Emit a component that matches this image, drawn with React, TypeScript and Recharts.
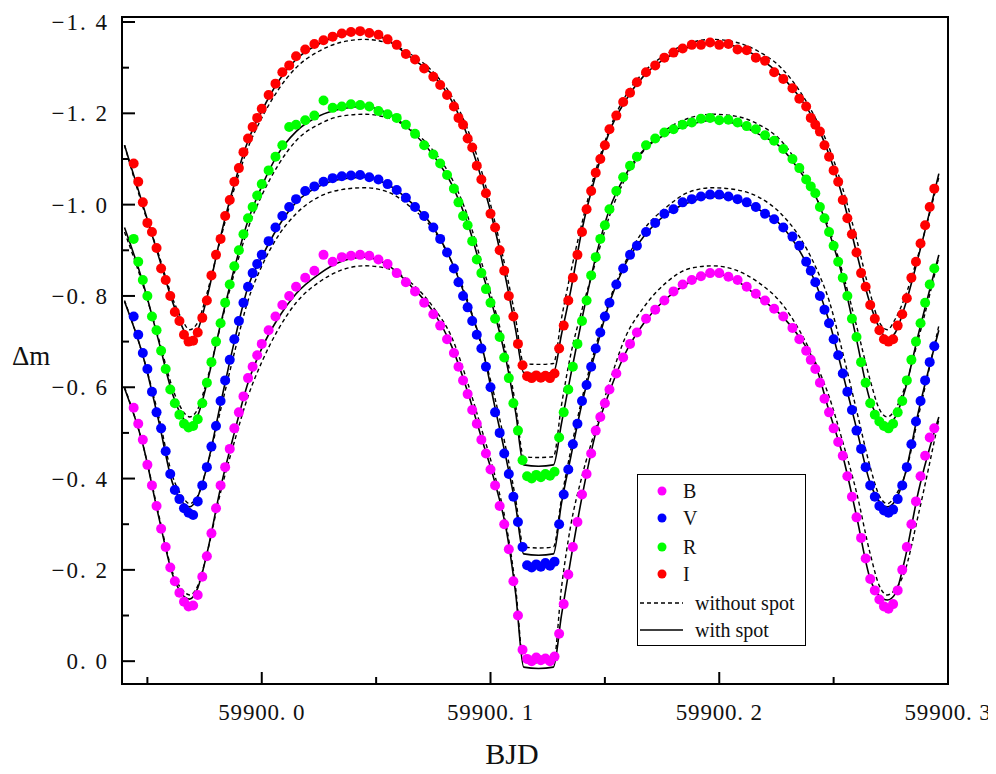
import React from "react";
import { ComposedChart, Line, Scatter, XAxis, YAxis, ReferenceArea } from "recharts";

// model curve times (BJD)
const modelTime = [
  59899.94, 59899.948, 59899.955, 59899.961, 59899.965, 59899.9685, 59899.972, 59899.976, 59899.982, 59899.988,
  59899.994, 59900.0, 59900.007, 59900.015, 59900.025, 59900.035, 59900.045, 59900.055, 59900.065, 59900.075,
  59900.083, 59900.09, 59900.096, 59900.102, 59900.107, 59900.111, 59900.1145, 59900.121, 59900.1275, 59900.131,
  59900.135, 59900.14, 59900.146, 59900.152, 59900.159, 59900.167, 59900.177, 59900.187, 59900.197, 59900.207,
  59900.217, 59900.227, 59900.235, 59900.242, 59900.248, 59900.254, 59900.26, 59900.266, 59900.27, 59900.2735,
  59900.277, 59900.281, 59900.287, 59900.296,
];

const iWithSpot = [
  -1.13, -1.0, -0.885, -0.787, -0.735, -0.705, -0.725, -0.795, -0.93, -1.045,
  -1.14, -1.205, -1.268, -1.318, -1.352, -1.372, -1.378, -1.36, -1.323, -1.283,
  -1.228, -1.15, -1.058, -0.945, -0.83, -0.725, -0.632, -0.629, -0.632, -0.715,
  -0.81, -0.945, -1.065, -1.16, -1.228, -1.282, -1.322, -1.346, -1.354, -1.347,
  -1.323, -1.282, -1.236, -1.18, -1.11, -1.015, -0.895, -0.782, -0.73, -0.706,
  -0.72, -0.775, -0.885, -1.068,
];
const iNoSpot = [
  -1.13, -0.995, -0.89, -0.795, -0.75, -0.726, -0.742, -0.805, -0.925, -1.035,
  -1.125, -1.19, -1.25, -1.3, -1.336, -1.356, -1.362, -1.354, -1.33, -1.29,
  -1.238, -1.165, -1.075, -0.96, -0.85, -0.75, -0.652, -0.65, -0.652, -0.75,
  -0.85, -0.96, -1.075, -1.165, -1.238, -1.29, -1.33, -1.354, -1.362, -1.356,
  -1.336, -1.3, -1.25, -1.19, -1.125, -1.035, -0.925, -0.805, -0.742, -0.726,
  -0.75, -0.795, -0.89, -1.06,
];
const rWithSpot = [
  -0.95, -0.83, -0.7, -0.585, -0.537, -0.519, -0.538, -0.608, -0.738, -0.86,
  -0.965, -1.04, -1.11, -1.16, -1.194, -1.21, -1.215, -1.2, -1.163, -1.108,
  -1.045, -0.96, -0.858, -0.758, -0.655, -0.545, -0.43, -0.427, -0.43, -0.52,
  -0.625, -0.75, -0.885, -0.99, -1.065, -1.12, -1.155, -1.175, -1.185, -1.178,
  -1.155, -1.125, -1.075, -1.02, -0.94, -0.84, -0.705, -0.57, -0.532, -0.52,
  -0.535, -0.59, -0.715, -0.89,
];
const rNoSpot = [
  -0.94, -0.825, -0.705, -0.598, -0.552, -0.535, -0.552, -0.615, -0.735, -0.85,
  -0.948, -1.02, -1.085, -1.14, -1.176, -1.194, -1.198, -1.19, -1.165, -1.118,
  -1.058, -0.975, -0.875, -0.77, -0.67, -0.56, -0.448, -0.446, -0.448, -0.56,
  -0.67, -0.77, -0.875, -0.975, -1.058, -1.118, -1.165, -1.19, -1.198, -1.194,
  -1.176, -1.14, -1.085, -1.02, -0.948, -0.85, -0.735, -0.615, -0.552, -0.535,
  -0.552, -0.598, -0.705, -0.885,
];
const vWithSpot = [
  -0.788, -0.67, -0.525, -0.39, -0.35, -0.338, -0.36, -0.425, -0.564, -0.7,
  -0.82, -0.885, -0.95, -1.005, -1.04, -1.056, -1.06, -1.044, -1.006, -0.95,
  -0.875, -0.785, -0.695, -0.555, -0.44, -0.34, -0.235, -0.232, -0.235, -0.345,
  -0.445, -0.565, -0.68, -0.785, -0.87, -0.93, -0.98, -1.005, -1.018, -1.012,
  -0.99, -0.955, -0.9, -0.83, -0.745, -0.63, -0.51, -0.39, -0.35, -0.338,
  -0.352, -0.405, -0.545, -0.725,
];
const vNoSpot = [
  -0.79, -0.67, -0.535, -0.405, -0.363, -0.345, -0.362, -0.425, -0.55, -0.675,
  -0.79, -0.865, -0.93, -0.98, -1.017, -1.033, -1.037, -1.028, -0.995, -0.945,
  -0.875, -0.79, -0.69, -0.575, -0.46, -0.355, -0.25, -0.248, -0.25, -0.355,
  -0.46, -0.575, -0.69, -0.79, -0.875, -0.945, -0.995, -1.028, -1.037, -1.033,
  -1.017, -0.98, -0.93, -0.865, -0.79, -0.675, -0.55, -0.425, -0.362, -0.345,
  -0.363, -0.405, -0.535, -0.735,
];
const bWithSpot = [
  -0.598, -0.475, -0.315, -0.19, -0.148, -0.136, -0.16, -0.235, -0.38, -0.5,
  -0.61, -0.685, -0.75, -0.805, -0.848, -0.876, -0.885, -0.868, -0.823, -0.765,
  -0.69, -0.59, -0.49, -0.39, -0.285, -0.148, 0.013, 0.016, 0.013, -0.1,
  -0.22, -0.36, -0.5, -0.59, -0.675, -0.74, -0.795, -0.83, -0.849, -0.835,
  -0.798, -0.758, -0.71, -0.65, -0.548, -0.45, -0.318, -0.18, -0.143, -0.134,
  -0.148, -0.22, -0.37, -0.535,
];
const bNoSpot = [
  -0.6, -0.475, -0.32, -0.195, -0.158, -0.145, -0.165, -0.235, -0.37, -0.48,
  -0.58, -0.655, -0.725, -0.785, -0.83, -0.857, -0.866, -0.86, -0.83, -0.775,
  -0.71, -0.61, -0.51, -0.405, -0.295, -0.16, 0.003, 0.004, 0.003, -0.16,
  -0.295, -0.405, -0.51, -0.61, -0.71, -0.775, -0.83, -0.86, -0.866, -0.857,
  -0.83, -0.785, -0.725, -0.655, -0.58, -0.48, -0.37, -0.235, -0.165, -0.145,
  -0.158, -0.195, -0.32, -0.53,
];

// observation times (BJD)
const obsTime = [
  59899.944, 59899.946, 59899.948, 59899.95, 59899.952, 59899.954, 59899.956, 59899.958, 59899.96, 59899.962, 59899.964,
  59899.966, 59899.968, 59899.97,
  59899.972, 59899.974, 59899.976, 59899.978, 59899.98, 59899.982, 59899.984, 59899.986, 59899.988, 59899.99,
  59899.992, 59899.994, 59899.996, 59899.998, 59900.0,
  59900.003, 59900.006, 59900.009, 59900.012, 59900.015, 59900.019, 59900.023, 59900.027, 59900.031, 59900.035,
  59900.039, 59900.043, 59900.047, 59900.051, 59900.055, 59900.059, 59900.063, 59900.067, 59900.071, 59900.075, 59900.078,
  59900.081, 59900.084, 59900.086, 59900.088, 59900.09, 59900.092, 59900.094, 59900.096, 59900.098, 59900.1,
  59900.102, 59900.104, 59900.106, 59900.108, 59900.11, 59900.112, 59900.114,
  59900.116, 59900.118, 59900.12, 59900.122, 59900.124, 59900.126, 59900.128,
  59900.13, 59900.132, 59900.134, 59900.136, 59900.138, 59900.14, 59900.142, 59900.144, 59900.146, 59900.148,
  59900.15, 59900.152, 59900.155, 59900.158, 59900.161,
  59900.164, 59900.168, 59900.172, 59900.176, 59900.18, 59900.184, 59900.188, 59900.192, 59900.196, 59900.2,
  59900.204, 59900.208, 59900.212, 59900.216, 59900.22, 59900.224, 59900.228, 59900.232, 59900.235, 59900.238,
  59900.24, 59900.242, 59900.244, 59900.246, 59900.248, 59900.25, 59900.252, 59900.254, 59900.256, 59900.258,
  59900.26, 59900.262, 59900.264, 59900.266, 59900.268, 59900.27,
  59900.272, 59900.274, 59900.276,
  59900.278, 59900.28, 59900.282, 59900.284, 59900.286, 59900.288, 59900.29, 59900.292, 59900.294,
];

const iObs = [
  -1.09, -1.05, -1.005, -0.96, -0.94, -0.905, -0.86, -0.835, -0.8, -0.765, -0.745,
  -0.715, -0.7, -0.702,
  -0.72, -0.752, -0.79, -0.845, -0.89, -0.925, -0.975, -1.01, -1.05, -1.08, -1.115, -1.145, -1.17, -1.19, -1.21,
  -1.24, -1.265, -1.29, -1.305, -1.325, -1.34, -1.352, -1.36, -1.368, -1.375, -1.378, -1.38, -1.376, -1.372, -1.362,
  -1.35, -1.33, -1.318, -1.298, -1.28, -1.262,
  -1.24, -1.215, -1.19, -1.175, -1.145, -1.125, -1.085, -1.055, -1.025, -0.98, -0.95, -0.9, -0.855, -0.8, -0.755,
  -0.695, -0.648,
  -0.624, -0.62, -0.626, -0.621, -0.625, -0.62, -0.63,
  -0.685, -0.735, -0.79, -0.84, -0.89, -0.94, -0.99, -1.03, -1.07, -1.1, -1.13, -1.165, -1.195, -1.225, -1.245,
  -1.268, -1.29, -1.305, -1.322, -1.333, -1.342, -1.35, -1.35, -1.355, -1.35, -1.352, -1.34, -1.338, -1.322, -1.315,
  -1.29, -1.275, -1.255, -1.232, -1.215,
  -1.19, -1.175, -1.16, -1.13, -1.105, -1.075, -1.05, -1.01, -0.97, -0.935, -0.895, -0.85, -0.82, -0.78, -0.75, -0.725,
  -0.705, -0.7, -0.705,
  -0.735, -0.76, -0.795, -0.84, -0.875, -0.915, -0.955, -0.995, -1.035,
];
const rObs = [
  -0.925, -0.875, -0.835, -0.8, -0.755, -0.725, -0.68, -0.64, -0.595, -0.565, -0.54,
  -0.52, -0.512, -0.515,
  -0.53, -0.565, -0.61, -0.655, -0.7, -0.74, -0.785, -0.825, -0.865, -0.9, -0.935, -0.97, -0.995, -1.02, -1.045,
  -1.075, -1.105, -1.13, -1.17, -1.175, -1.185, -1.195, -1.228, -1.212, -1.215, -1.22, -1.218, -1.215, -1.205, -1.198,
  -1.19, -1.175, -1.155, -1.13, -1.11, -1.09,
  -1.065, -1.035, -1.005, -0.975, -0.955, -0.92, -0.88, -0.85, -0.815, -0.785, -0.75, -0.71, -0.665, -0.62, -0.565,
  -0.505, -0.44,
  -0.405, -0.4, -0.408, -0.403, -0.41, -0.406, -0.415,
  -0.49, -0.545, -0.595, -0.645, -0.695, -0.745, -0.79, -0.845, -0.885, -0.925, -0.955, -0.99, -1.03, -1.06, -1.085,
  -1.105, -1.13, -1.145, -1.158, -1.165, -1.175, -1.18, -1.188, -1.19, -1.185, -1.186, -1.18, -1.172, -1.165, -1.152,
  -1.14, -1.122, -1.1, -1.08, -1.055,
  -1.04, -1.025, -0.995, -0.97, -0.94, -0.91, -0.875, -0.84, -0.8, -0.75, -0.71, -0.655, -0.61, -0.565, -0.54, -0.525,
  -0.515, -0.51, -0.52,
  -0.545, -0.57, -0.615, -0.66, -0.7, -0.74, -0.785, -0.825, -0.86,
];
const vObs = [
  -0.755, -0.715, -0.675, -0.64, -0.59, -0.545, -0.51, -0.46, -0.41, -0.375, -0.355,
  -0.335, -0.325, -0.32,
  -0.35, -0.385, -0.425, -0.47, -0.515, -0.57, -0.615, -0.66, -0.705, -0.745, -0.785, -0.82, -0.85, -0.87, -0.89,
  -0.92, -0.95, -0.975, -0.995, -1.012, -1.03, -1.04, -1.05, -1.058, -1.062, -1.064, -1.065, -1.06, -1.055, -1.045,
  -1.032, -1.015, -0.995, -0.975, -0.95, -0.925,
  -0.895, -0.86, -0.83, -0.8, -0.775, -0.745, -0.715, -0.685, -0.645, -0.6, -0.545, -0.5, -0.455, -0.41, -0.36,
  -0.305, -0.25,
  -0.21, -0.205, -0.212, -0.207, -0.215, -0.209, -0.218,
  -0.3, -0.365, -0.42, -0.475, -0.52, -0.57, -0.605, -0.645, -0.685, -0.72, -0.755, -0.785, -0.825, -0.86, -0.89,
  -0.91, -0.94, -0.96, -0.98, -0.99, -1.005, -1.012, -1.018, -1.022, -1.022, -1.018, -1.012, -1.005, -0.995, -0.98,
  -0.968, -0.95, -0.93, -0.91, -0.875,
  -0.855, -0.83, -0.8, -0.77, -0.74, -0.705, -0.67, -0.63, -0.59, -0.55, -0.505, -0.465, -0.425, -0.385, -0.36, -0.34,
  -0.33, -0.325, -0.332,
  -0.355, -0.385, -0.425, -0.475, -0.525, -0.57, -0.615, -0.655, -0.69,
];
const bObs = [
  -0.555, -0.52, -0.485, -0.43, -0.385, -0.34, -0.29, -0.25, -0.205, -0.175, -0.15,
  -0.13, -0.12, -0.122,
  -0.145, -0.185, -0.23, -0.28, -0.335, -0.385, -0.425, -0.465, -0.51, -0.545, -0.58, -0.62, -0.645, -0.67, -0.695,
  -0.725, -0.755, -0.78, -0.8, -0.82, -0.84, -0.855, -0.89, -0.875, -0.885, -0.888, -0.89, -0.888, -0.88, -0.87,
  -0.85, -0.83, -0.81, -0.785, -0.76, -0.735,
  -0.705, -0.675, -0.645, -0.615, -0.585, -0.55, -0.52, -0.485, -0.455, -0.42, -0.385, -0.34, -0.3, -0.245, -0.175,
  -0.1, -0.025,
  -0.005, 0.0, -0.008, -0.002, -0.006, 0.0, -0.01,
  -0.06, -0.125, -0.19, -0.25, -0.305, -0.365, -0.41, -0.455, -0.505, -0.535, -0.565, -0.595, -0.63, -0.665, -0.695,
  -0.72, -0.75, -0.77, -0.79, -0.81, -0.825, -0.835, -0.843, -0.85, -0.85, -0.842, -0.835, -0.82, -0.805, -0.79,
  -0.772, -0.755, -0.73, -0.705, -0.68,
  -0.66, -0.64, -0.61, -0.575, -0.545, -0.51, -0.48, -0.45, -0.405, -0.36, -0.315, -0.27, -0.225, -0.18, -0.155, -0.135,
  -0.12, -0.115, -0.125,
  -0.155, -0.2, -0.25, -0.3, -0.35, -0.405, -0.45, -0.49, -0.51,
];

const xTicks = [59899.95, 59900.0, 59900.05, 59900.1, 59900.15, 59900.2, 59900.25, 59900.3];
const yTicks = [-1.4, -1.3, -1.2, -1.1, -1.0, -0.9, -0.8, -0.7, -0.6, -0.5, -0.4, -0.3, -0.2, -0.1, 0.0];

const X_MIN = 59899.9389;
const X_MAX = 59900.3;
const Y_MIN = -1.411;
const Y_MAX = 0.05;

const FONT = "'Liberation Serif', 'DejaVu Serif', serif";
const COLORS = { B: "#ff00ff", V: "#0000ff", R: "#00ff00", I: "#ff0000" };

const modelRows = modelTime.map((x, i) => ({
  x,
  iS: iWithSpot[i], iN: iNoSpot[i],
  rS: rWithSpot[i], rN: rNoSpot[i],
  vS: vWithSpot[i], vN: vNoSpot[i],
  bS: bWithSpot[i], bN: bNoSpot[i],
}));

const toPoints = (ys: number[]) => obsTime.map((x, i) => ({ x, y: ys[i] }));

function fmt(v: number) {
  const s = Math.abs(v) < 1e-9 ? "0.0" : v.toFixed(1);
  return s.replace("-", "\u2212").replace(".", ". ");
}

function XTick(props: any) {
  const { x, y, payload } = props;
  const v = payload.value;
  const major = Math.abs(v * 10 - Math.round(v * 10)) < 1e-4;
  return (
    <g>
      <line x1={x} y1={y} x2={x} y2={y - (major ? 12 : 7)} stroke="#000" strokeWidth={2} />
      {major && (
        <text x={x} y={y + 36} textAnchor="middle" fontSize={23} letterSpacing={0.8} fontFamily={FONT} fill="#111">
          {fmt(v)}
        </text>
      )}
    </g>
  );
}

function YTick(props: any) {
  const { x, y, payload } = props;
  const v = payload.value;
  const major = Math.abs(v * 5 - Math.round(v * 5)) < 1e-6;
  return (
    <g>
      <line x1={x} y1={y} x2={x + (major ? 13 : 7)} y2={y} stroke="#000" strokeWidth={2} />
      {major && (
        <text x={x - 13} y={y + 8} textAnchor="end" fontSize={23} letterSpacing={2} fontFamily={FONT} fill="#111">
          {fmt(v)}
        </text>
      )}
    </g>
  );
}

const dot = (color: string) => (p: any) => <circle cx={p.cx} cy={p.cy} r={5} fill={color} />;

function LegendBox() {
  const rows: [string, string][] = [["B", COLORS.B], ["V", COLORS.V], ["R", COLORS.R], ["I", COLORS.I]];
  const ys = [17, 44, 73, 100];
  return (
    <svg
      width={169}
      height={172}
      style={{ position: "absolute", left: 629, top: 466, overflow: "visible" }}
    >
      <rect x={0.5} y={0.5} width={168} height={171} fill="#fff" stroke="#000" strokeWidth={1} />
      {rows.map(([name, c], i) => (
        <g key={name}>
          <circle cx={25} cy={ys[i]} r={4.5} fill={c} />
          <text x={46} y={ys[i] + 7} fontSize={20} fontFamily={FONT} fill="#111">{name}</text>
        </g>
      ))}
      <line x1={3} y1={129} x2={46} y2={129} stroke="#000" strokeWidth={1.3} strokeDasharray="4 3" />
      <text x={58} y={136} fontSize={20} fontFamily={FONT} fill="#111">without spot</text>
      <line x1={3} y1={156} x2={46} y2={156} stroke="#000" strokeWidth={1.5} />
      <text x={58} y={163} fontSize={20} fontFamily={FONT} fill="#111">with spot</text>
    </svg>
  );
}

export default function App() {
  return (
    <div style={{ position: "relative", width: 988, height: 756, background: "#fff" }}>
      <ComposedChart
        width={988}
        height={756}
        data={modelRows}
        margin={{ top: 9, right: 48, left: 0, bottom: 0 }}
      >
        <XAxis
          type="number"
          dataKey="x"
          domain={[X_MIN, X_MAX]}
          allowDataOverflow
          ticks={xTicks}
          interval={0}
          tick={XTick}
          tickLine={false}
          tickSize={0}
          tickMargin={0}
          axisLine={false}
          height={80}
        />
        <YAxis
          type="number"
          domain={[Y_MIN, Y_MAX]}
          allowDataOverflow
          reversed
          ticks={yTicks}
          interval={0}
          tick={YTick}
          tickLine={false}
          tickSize={0}
          tickMargin={0}
          axisLine={false}
          width={114}
        />
        <Scatter data={toPoints(bObs)} dataKey="y" shape={dot(COLORS.B)} isAnimationActive={false} />
        <Scatter data={toPoints(vObs)} dataKey="y" shape={dot(COLORS.V)} isAnimationActive={false} />
        <Scatter data={toPoints(rObs)} dataKey="y" shape={dot(COLORS.R)} isAnimationActive={false} />
        <Scatter data={toPoints(iObs)} dataKey="y" shape={dot(COLORS.I)} isAnimationActive={false} />

        {["bN", "vN", "rN", "iN"].map((k) => (
          <Line
            key={k}
            type="monotone"
            dataKey={k}
            stroke="#000"
            strokeWidth={1.4}
            strokeDasharray="4 3"
            dot={false}
            activeDot={false}
            isAnimationActive={false}
          />
        ))}
        {["bS", "vS", "rS", "iS"].map((k) => (
          <Line
            key={k}
            type="monotone"
            dataKey={k}
            stroke="#000"
            strokeWidth={1.6}
            dot={false}
            activeDot={false}
            isAnimationActive={false}
          />
        ))}

        <ReferenceArea x1={X_MIN} x2={X_MAX} y1={Y_MIN} y2={Y_MAX} fill="none" stroke="#000" strokeWidth={2} />
      </ComposedChart>

      <div
        style={{
          position: "absolute", left: 4, top: 332, fontSize: 27, lineHeight: "32px",
          fontFamily: FONT, color: "#111",
        }}
      >
        Δm
      </div>
      <div
        style={{
          position: "absolute", left: 464, width: 80, top: 728, textAlign: "center",
          fontSize: 30, lineHeight: "36px", fontFamily: FONT, color: "#111",
        }}
      >
        BJD
      </div>
      <LegendBox />
    </div>
  );
}
